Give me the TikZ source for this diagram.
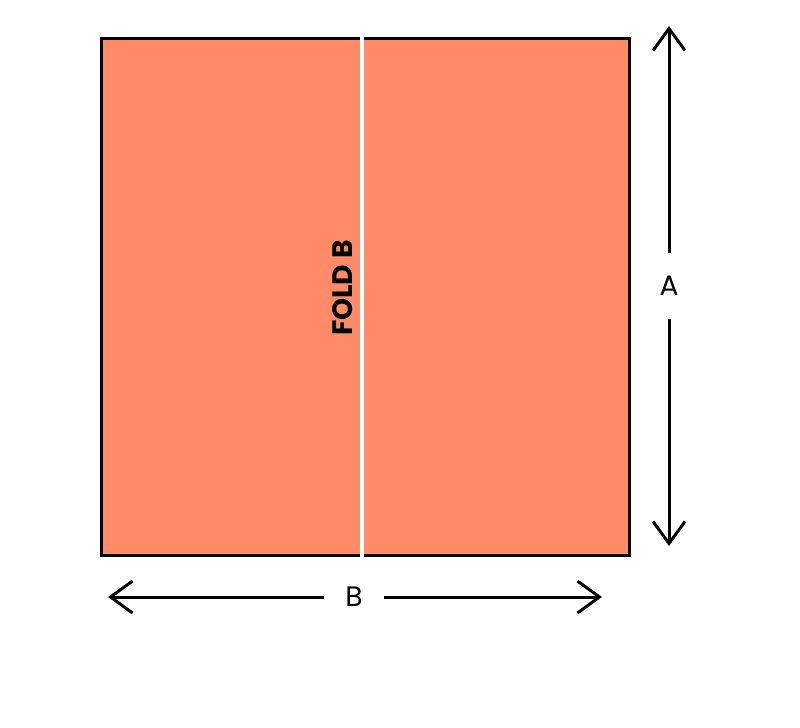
\documentclass[tikz,border=0pt]{standalone}
\usepackage{fontspec}
\setmainfont{Poppins}
\usepackage{tikz}
\usetikzlibrary{arrows.meta}
\definecolor{sheetcolor}{RGB}{255,139,104}

\begin{document}
\begin{tikzpicture}[x=0.02cm, y=-0.02cm, >={Straight Barb[length=0.44cm, width=0.64cm, line width=1.7pt]},
	sheet/.style={draw, line width=1.7pt, fill=sheetcolor, inner sep=0pt, outer sep=0pt, minimum width=10.56cm, minimum height=10.34cm},
	dim/.style={line width=1.7pt},
	dimlabel/.style={inner sep=0pt, font=\fontsize{16}{18}\selectfont}]
		\useasboundingbox (0,0) rectangle (800,727);
		\node[sheet] (S) at (365.5,297) {};
		\coordinate (foldtop) at (362,36);
		\coordinate (foldbot) at (362,558);
		\draw[white, line width=2.3pt] (foldtop) -- (foldbot);
		\node[rotate=90, font=\fontsize{16}{18}\bfseries\selectfont] (fold) at (343,288) {FOLD B};
		% dimension A
		\coordinate (Atop) at (669,26);
		\coordinate (Abot) at (669,546);
		\node[dimlabel, minimum height=1.3cm] (A) at (669,286) {A};
		% dimension B
		\coordinate (Bleft) at (108,597);
		\coordinate (Bright) at (602,597);
		\node[dimlabel, minimum width=1.2cm] (B) at (354,597) {B};
		\path[dim]
		(A) edge[->] (Atop)
		(A) edge[->] (Abot)
		(B) edge[->] (Bleft)
		(B) edge[->] (Bright);
\end{tikzpicture}
\end{document}
